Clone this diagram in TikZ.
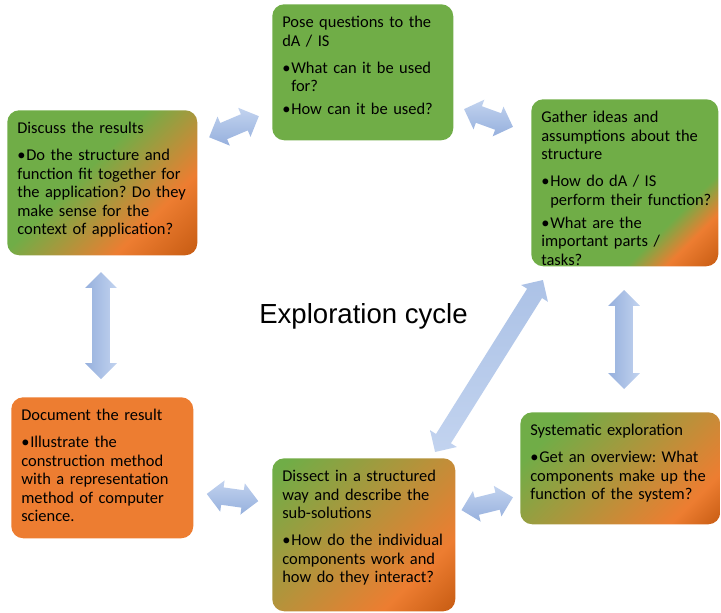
\documentclass[tikz,border=0pt]{standalone}
\usepackage{fontspec}
\setmainfont{Carlito}
\newfontfamily\arialfont{Liberation Sans}
\usetikzlibrary{shapes.arrows}

\definecolor{stagegreen}{RGB}{112,173,71}
\definecolor{stageorange}{RGB}{237,125,49}
\definecolor{stagerust}{RGB}{197,90,17}
\definecolor{arrowlight}{RGB}{194,211,239}
\definecolor{arrowmid}{RGB}{172,194,230}
\definecolor{arrowdark}{RGB}{150,176,221}

% green running into orange, one blend per box
\pgfdeclarehorizontalshading{gathershade}{100bp}{color(0bp)=(stagegreen); color(67bp)=(stagegreen); color(75bp)=(stageorange); color(86bp)=(stagerust); color(100bp)=(stagerust)}
\pgfdeclarehorizontalshading{discussshade}{100bp}{color(0bp)=(stagegreen); color(44bp)=(stagegreen); color(68bp)=(stageorange); color(86bp)=(stagerust); color(100bp)=(stagerust)}
\pgfdeclarehorizontalshading{systemshade}{100bp}{color(0bp)=(stagegreen); color(26bp)=(stagegreen); color(74bp)=(stageorange); color(86bp)=(stagerust); color(100bp)=(stagerust)}
\pgfdeclarehorizontalshading{dissectshade}{100bp}{color(0bp)=(stagegreen); color(18bp)=(stagegreen); color(70bp)=(stageorange); color(86bp)=(stagerust); color(100bp)=(stagerust)}

\newcommand{\pxu}{0.025cm}
\newlength\bulletwd
\newcommand{\bitem}[1][3pt]{%
  \par\vspace{#1}\settowidth{\bulletwd}{\textbullet\kern0.6pt}%
  \hangindent=\bulletwd\hangafter=1\noindent\textbullet\kern0.6pt}
\newcommand{\stage}[7]{
  \node [stagebox, #6, minimum width=#4*\pxu, minimum height=#5*\pxu] (#1) at (#2,#3) {};
  \node [stagetext] (#1-text) at (#2+10,#3+12) {#7};
}

\tikzset{
  stagebox/.style={rectangle, rounded corners=0.3cm, anchor=north west, inner sep=0, draw=none},
  stagetext/.style={anchor=north west, inner sep=0, text width=4.7cm, align=left,
    font=\fontsize{11.7}{13.2}\selectfont\frenchspacing, text=black},
  gathercol/.style={shade, shading=gathershade, shading angle=-45},
  discusscol/.style={shade, shading=discussshade, shading angle=-45},
  systemcol/.style={shade, shading=systemshade, shading angle=-45},
  dissectcol/.style={shade, shading=dissectshade, shading angle=-45},
  biarrow/.style={double arrow, double arrow head extend=7*\pxu, minimum width=31*\pxu,
    inner xsep=0, inner ysep=8.5*\pxu, draw=none}
}

\begin{document}
\begin{tikzpicture}[x=0.025cm, y=-0.025cm]
  \useasboundingbox (0,0) rectangle (721,612);

  \stage{pose}{272}{4}{181}{136}{fill=stagegreen}{Pose questions to the\newline dA / IS\bitem[6pt]What can it be used\newline for?\bitem How can it be used?}
  \stage{gather}{531}{99}{187}{167}{gathercol}{Gather ideas and\newline assumptions about the\newline structure\bitem[6pt]How do dA / IS\newline perform their function?\bitem What are the\newline important parts /\newline tasks?}
  \stage{discuss}{7}{110}{190}{145}{discusscol}{Discuss the results\bitem[6pt]Do the structure and\newline function fit together for\newline the application? Do they\newline make sense for the\newline context of application?}
  \stage{document}{11}{397}{182}{141}{fill=stageorange}{Document the result\bitem[6pt]Illustrate the\newline construction method\newline with a representation\newline method of computer\newline science.}
  \stage{dissect}{272}{458}{183}{153}{dissectcol}{Dissect in a structured\newline way and describe the\newline sub-solutions\bitem[6pt]How do the individual\newline components work and\newline how do they interact?}
  \stage{system}{520}{412}{200}{112}{systemcol}{Systematic exploration\bitem[6pt]Get an overview: What\newline components make up the\newline function of the system?}

  \node [font=\arialfont\fontsize{19.6}{23}\selectfont, anchor=base] (title) at (363.5,323.5) {Exploration cycle};

  % block arrows between the stages
  \foreach \name/\x/\y/\len/\ang in {discuss-pose/234/126.7/54/23, pose-gather/488.5/118/52/-20,
      document-dissect/232.5/497.5/52/-8, dissect-system/487.2/503.7/53/14}
    \node [biarrow, top color=arrowlight, bottom color=arrowdark, minimum height=\len*\pxu, rotate=\ang] (\name) at (\x,\y) {};
  \node [biarrow, top color=arrowmid, bottom color=arrowlight, minimum height=203*\pxu, rotate=57.9] (dissect-gather) at (489,366) {};
  \node [biarrow, left color=arrowdark, right color=arrowlight, minimum height=107*\pxu, rotate=90] (discuss-document) at (101,325.5) {};
  \node [biarrow, left color=arrowdark, right color=arrowlight, minimum height=99*\pxu, rotate=90] (gather-system) at (624,339.5) {};
\end{tikzpicture}
\end{document}
